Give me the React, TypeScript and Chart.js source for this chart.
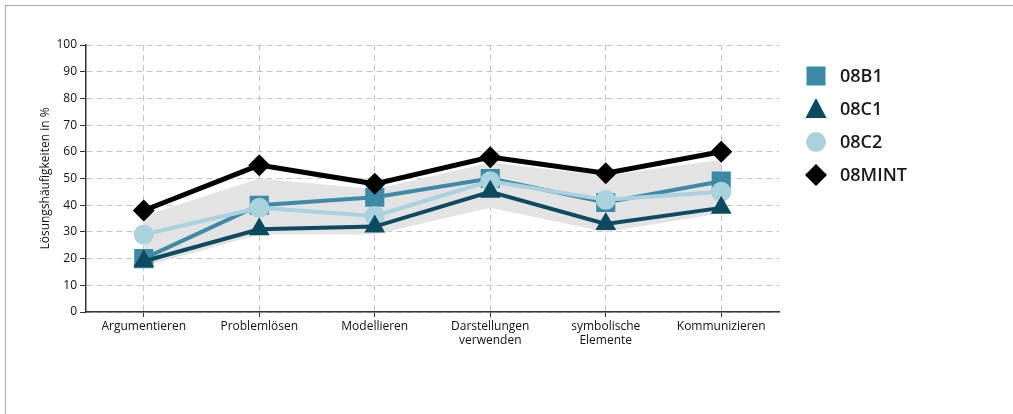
import React, { useEffect, useRef } from "react";
import { Chart, registerables } from "chart.js";

Chart.register(...registerables);

const categories: (string | string[])[] = [
  "Argumentieren",
  "Problemlösen",
  "Modellieren",
  ["Darstellungen", "verwenden"],
  ["symbolische", "Elemente"],
  "Kommunizieren",
];

const seriesB1 = [20, 40, 43, 50, 41, 49];
const seriesC1 = [19, 31, 32, 45, 33, 39];
const seriesC2 = [29, 39, 36, 49, 42, 45];
const seriesMINT = [38, 55, 48, 58, 52, 60];

const bandUpper = [36, 50, 46, 56, 51, 57];
const bandLower = [17, 29, 29, 39, 30, 37];

const yTicks = [0, 10, 20, 30, 40, 50, 60, 70, 80, 90, 100];

const legendNames = ["08B1", "08C1", "08C2", "08MINT"];

const COL_B1 = "#3d8aa6";
const COL_C1 = "#0c4a60";
const COL_C2 = "#a9d1de";
const COL_MINT = "#000000";
const COL_BAND = "#e3e3e3";

const legendPlugin = {
  id: "customLegend",
  afterDraw(chart: any) {
    const ctx = chart.ctx as CanvasRenderingContext2D;
    const items = [
      { name: legendNames[0], color: COL_B1, shape: "square" },
      { name: legendNames[1], color: COL_C1, shape: "triangle" },
      { name: legendNames[2], color: COL_C2, shape: "circle" },
      { name: legendNames[3], color: COL_MINT, shape: "diamond" },
    ];
    const mx = 816;
    const tx = 840;
    const y0 = 76;
    const dy = 33;
    ctx.save();
    items.forEach((it, i) => {
      const y = y0 + i * dy;
      ctx.fillStyle = it.color;
      ctx.beginPath();
      if (it.shape === "square") {
        ctx.rect(mx - 9.5, y - 9.5, 19, 19);
      } else if (it.shape === "triangle") {
        ctx.moveTo(mx, y - 11);
        ctx.lineTo(mx + 10.5, y + 9);
        ctx.lineTo(mx - 10.5, y + 9);
        ctx.closePath();
      } else if (it.shape === "circle") {
        ctx.arc(mx, y, 10, 0, Math.PI * 2);
      } else {
        ctx.moveTo(mx, y - 11);
        ctx.lineTo(mx + 11, y);
        ctx.lineTo(mx, y + 11);
        ctx.lineTo(mx - 11, y);
        ctx.closePath();
      }
      ctx.fill();
      ctx.fillStyle = "#1a1a1a";
      ctx.font = "600 18px 'Open Sans'";
      ctx.textBaseline = "middle";
      ctx.textAlign = "left";
      ctx.fillText(it.name, tx, y + 1);
    });
    ctx.restore();
  },
};

export default function App() {
  const canvasRef = useRef<HTMLCanvasElement | null>(null);

  useEffect(() => {
    const canvas = canvasRef.current;
    if (!canvas) return;
    const lineDs = (label: string, data: number[], color: string, style: string, radius: number, width: number) => ({
      label,
      data,
      borderColor: color,
      backgroundColor: color,
      pointBackgroundColor: color,
      pointBorderColor: color,
      pointBorderWidth: 0,
      pointStyle: style,
      pointRadius: radius,
      borderWidth: width,
      fill: false,
      tension: 0,
    });
    const chart = new Chart(canvas, {
      type: "line",
      data: {
        labels: categories,
        datasets: [
          lineDs("08MINT", seriesMINT, COL_MINT, "rectRot", 11, 5),
          lineDs("08C1", seriesC1, COL_C1, "triangle", 12, 4),
          lineDs("08C2", seriesC2, COL_C2, "circle", 10, 4),
          lineDs("08B1", seriesB1, COL_B1, "rect", 13.5, 4),
          {
            label: "bandUpper",
            data: bandUpper,
            borderWidth: 0,
            borderColor: "rgba(0,0,0,0)",
            backgroundColor: COL_BAND,
            pointRadius: 0,
            fill: "+1",
            tension: 0,
          },
          {
            label: "bandLower",
            data: bandLower,
            borderWidth: 0,
            borderColor: "rgba(0,0,0,0)",
            backgroundColor: COL_BAND,
            pointRadius: 0,
            fill: false,
            tension: 0,
          },
        ],
      },
      options: {
        animation: false,
        responsive: false,
        layout: { padding: { left: 0, top: 45, right: 234, bottom: 0 } },
        plugins: {
          legend: { display: false },
          tooltip: { enabled: false },
        },
        scales: {
          x: {
            type: "category",
            offset: true,
            grid: {
              offset: false,
              color: "#c4c4c4",
              lineWidth: 1,
              tickColor: "#333333",
              tickLength: 5,
              tickBorderDash: [],
              drawOnChartArea: true,
            },
            border: { display: true, color: "#333333", width: 1.5, dash: [6, 4] },
            ticks: {
              color: "#111111",
              font: { family: "'Open Sans'", size: 12 },
              maxRotation: 0,
              autoSkip: false,
              padding: 2,
            },
            afterFit(scale: any) {
              scale.height = 102;
            },
          },
          y: {
            min: 0,
            max: 100,
            afterBuildTicks(scale: any) {
              scale.ticks = yTicks.map((v) => ({ value: v }));
            },
            grid: {
              color: "#c4c4c4",
              lineWidth: 1,
              tickColor: "#333333",
              tickLength: 6,
              tickBorderDash: [],
            },
            border: { display: true, color: "#333333", width: 1.5, dash: [6, 4] },
            ticks: {
              color: "#111111",
              font: { family: "'Open Sans'", size: 12 },
              padding: 3,
            },
            title: {
              display: true,
              text: "Lösungshäufigkeiten in %",
              color: "#111111",
              font: { family: "'Open Sans'", size: 12 },
              padding: { top: 38, bottom: 0 },
            },
            afterFit(scale: any) {
              scale.width = 86;
            },
          },
        },
      },
      plugins: [legendPlugin],
    } as any);
    return () => chart.destroy();
  }, []);

  return (
    <>
      <div
        style={{
          position: "fixed",
          left: 5,
          top: 5,
          width: 2000,
          height: 2000,
          border: "1px solid #aaaaaa",
          boxSizing: "border-box",
        }}
      />
      <canvas
        ref={canvasRef}
        width={1013}
        height={414}
        style={{ position: "fixed", left: 0, top: 0, display: "block" }}
      />
    </>
  );
}
